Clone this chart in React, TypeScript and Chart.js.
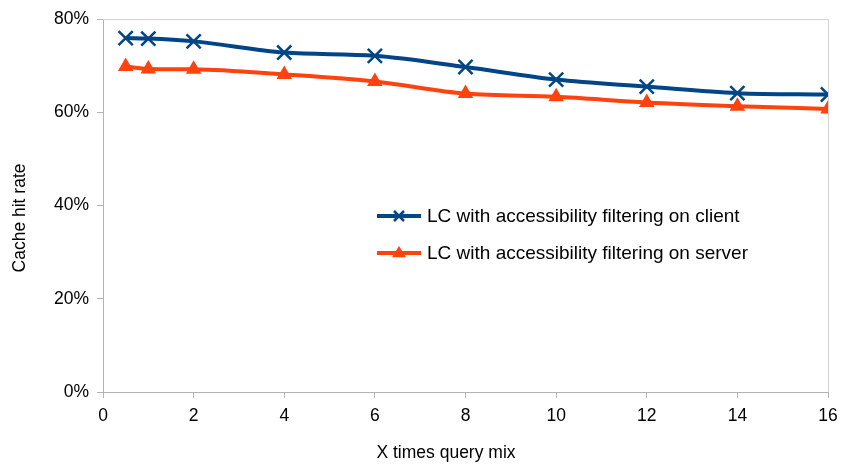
import React, { useEffect, useRef } from "react";
import { Chart, registerables } from "chart.js";

Chart.register(...registerables);

const xValues = [0.5, 1, 2, 4, 6, 8, 10, 12, 14, 16];
const clientRates = [75.9, 75.8, 75.2, 72.8, 72.1, 69.7, 67.0, 65.5, 64.1, 63.8];
const serverRates = [69.8, 69.3, 69.2, 68.1, 66.6, 64.0, 63.3, 62.1, 61.3, 60.7];
const seriesNames = [
  "LC with accessibility filtering on client",
  "LC with accessibility filtering on server",
];
const xTitle = "X times query mix";
const yTitle = "Cache hit rate";

const FONT = "'Liberation Sans', Arial, sans-serif";
const FS = 17.5;
const LEGEND_FS = 19;
const BLUE = "#004586";
const ORANGE = "#ff420e";
const AXIS = "#b3b3b3";

const decorPlugin = {
  id: "decor",
  beforeDatasetsDraw(chart: any) {
    const { ctx, chartArea: a } = chart;
    ctx.save();
    ctx.strokeStyle = "#d4d4d4";
    ctx.lineWidth = 1;
    ctx.beginPath();
    ctx.moveTo(a.left, a.top + 0.5);
    ctx.lineTo(a.right + 0.5, a.top + 0.5);
    ctx.lineTo(a.right + 0.5, a.bottom);
    ctx.stroke();
    ctx.restore();
  },
  afterDraw(chart: any) {
    const { ctx } = chart;
    ctx.save();
    ctx.fillStyle = "#000";
    ctx.font = `${FS}px ${FONT}`;
    ctx.textAlign = "center";
    ctx.textBaseline = "middle";
    ctx.fillText(xTitle, 446, 453);
    ctx.translate(20, 218);
    ctx.rotate(-Math.PI / 2);
    ctx.fillText(yTitle, 0, 0);
    ctx.restore();

    // legend
    const rows = [216, 253];
    chart.data.datasets.forEach((ds: any, i: number) => {
      const y = rows[i];
      ctx.save();
      ctx.strokeStyle = ds.borderColor;
      ctx.lineWidth = 4;
      ctx.beginPath();
      ctx.moveTo(377, y);
      ctx.lineTo(421, y);
      ctx.stroke();
      const cx = 399;
      if (ds.pointStyle === "crossRot") {
        ctx.lineWidth = 2.5;
        const r = 5;
        ctx.beginPath();
        ctx.moveTo(cx - r, y - r);
        ctx.lineTo(cx + r, y + r);
        ctx.moveTo(cx + r, y - r);
        ctx.lineTo(cx - r, y + r);
        ctx.stroke();
      } else {
        ctx.fillStyle = ds.borderColor;
        const r = 7;
        ctx.beginPath();
        ctx.moveTo(cx, y - r);
        ctx.lineTo(cx + r, y + r * 0.6);
        ctx.lineTo(cx - r, y + r * 0.6);
        ctx.closePath();
        ctx.fill();
      }
      ctx.fillStyle = "#000";
      ctx.font = `${LEGEND_FS}px ${FONT}`;
      ctx.textAlign = "left";
      ctx.textBaseline = "middle";
      ctx.fillText(ds.label, 427, y + 1);
      ctx.restore();
    });
  },
};

export default function App() {
  const ref = useRef<HTMLCanvasElement>(null);
  useEffect(() => {
    document.body.style.margin = "0";
    const chart = new Chart(ref.current as HTMLCanvasElement, {
      type: "line",
      data: {
        datasets: [
          {
            label: seriesNames[0],
            data: xValues.map((x, i) => ({ x, y: clientRates[i] })),
            borderColor: BLUE,
            backgroundColor: BLUE,
            borderWidth: 4,
            pointStyle: "crossRot",
            pointRadius: 10,
            pointBorderWidth: 2.5,
            cubicInterpolationMode: "monotone",
          },
          {
            label: seriesNames[1],
            data: xValues.map((x, i) => ({ x, y: serverRates[i] })),
            borderColor: ORANGE,
            backgroundColor: ORANGE,
            borderWidth: 4,
            pointStyle: "triangle",
            pointRadius: 9,
            pointBorderWidth: 0,
            cubicInterpolationMode: "monotone",
          },
        ],
      },
      options: {
        animation: false,
        responsive: false,
        layout: { padding: { left: 0, top: 19, right: 15, bottom: 0 } },
        plugins: { legend: { display: false }, tooltip: { enabled: false } },
        scales: {
          x: {
            type: "linear",
            min: 0,
            max: 16,
            ticks: {
              stepSize: 2,
              color: "#000",
              font: { family: FONT, size: FS },
              padding: 8,
              maxRotation: 0,
            },
            grid: { drawOnChartArea: false, color: AXIS, tickLength: 6 },
            border: { color: AXIS },
            afterFit: (s: any) => {
              s.height = 72;
              s.paddingLeft = 0;
              s.paddingRight = 0;
            },
          },
          y: {
            min: 0,
            max: 80,
            ticks: {
              stepSize: 20,
              color: "#000",
              font: { family: FONT, size: FS },
              padding: 8,
              callback: (v: any) => v + "%",
            },
            grid: { drawOnChartArea: false, color: AXIS, tickLength: 6 },
            border: { color: AXIS },
            afterFit: (s: any) => {
              s.width = 103;
              s.paddingTop = 0;
              s.paddingBottom = 0;
            },
          },
        },
      },
      plugins: [decorPlugin],
    } as any);
    return () => chart.destroy();
  }, []);
  return (
    <div style={{ position: "absolute", left: 0, top: 0, width: 843, height: 464 }}>
      <canvas ref={ref} width={843} height={464} style={{ width: 843, height: 464 }} />
    </div>
  );
}
